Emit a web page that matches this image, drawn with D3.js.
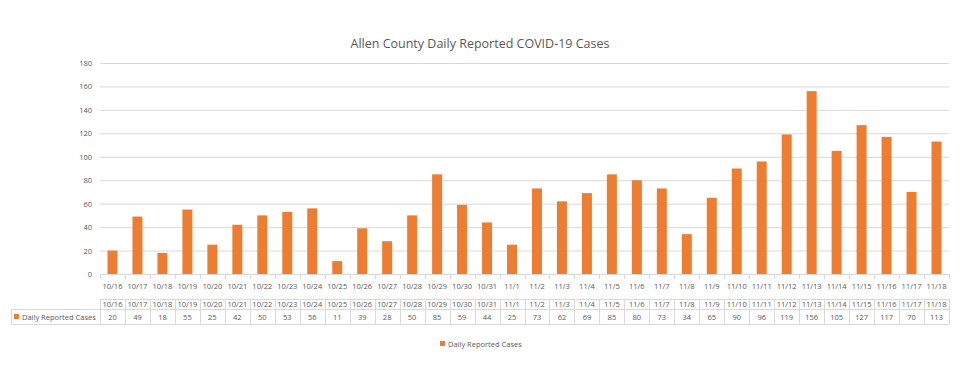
<!DOCTYPE html>
<html>
<head>
<meta charset="utf-8">
<script src="https://cdn.jsdelivr.net/npm/d3@7"></script>
<style>
    body { margin: 0; background: #fff; }
    text { font-family: "Open Sans", "Noto Sans", sans-serif; fill: #595959; }
</style>
</head>
<body>
<div id="chart"></div>
<script>
const dates = ["10/16", "10/17", "10/18", "10/19", "10/20", "10/21", "10/22", "10/23", "10/24", "10/25",
    "10/26", "10/27", "10/28", "10/29", "10/30", "10/31", "11/1", "11/2", "11/3", "11/4", "11/5", "11/6",
    "11/7", "11/8", "11/9", "11/10", "11/11", "11/12", "11/13", "11/14", "11/15", "11/16", "11/17", "11/18"];
const cases = [20, 49, 18, 55, 25, 42, 50, 53, 56, 11, 39, 28, 50, 85, 59, 44, 25, 73, 62, 69, 85, 80,
    73, 34, 65, 90, 96, 119, 156, 105, 127, 117, 70, 113];
const yTicks = [0, 20, 40, 60, 80, 100, 120, 140, 160, 180];
const seriesName = "Daily Reported Cases";
const title = "Allen County Daily Reported COVID-19 Cases";

const width = 960;
const height = 365;
const color = "#ed7d31";
const gridColor = "#d9d9d9";

const svg = d3.select("#chart")
    .append("svg")
    .attr("width", width)
    .attr("height", height);

const xScale = d3.scaleBand()
    .domain(dates)
    .range([100, 949])
    .paddingInner(0.6)
    .paddingOuter(0.3);

const yScale = d3.scaleLinear()
    .domain([0, 180])
    .range([274, 63]);

// title
svg.append("text")
    .attr("x", 480)
    .attr("y", 48)
    .attr("text-anchor", "middle")
    .style("font-size", "12.5px")
    .text(title);

// gridlines
svg.append("g")
    .selectAll("line")
    .data(yTicks.filter((d) => d > 0))
    .join("line")
    .attr("x1", 100)
    .attr("x2", 949)
    .attr("y1", (d) => yScale(d) + 0.5)
    .attr("y2", (d) => yScale(d) + 0.5)
    .attr("stroke", gridColor);

// y axis labels
svg.append("g")
    .selectAll("text")
    .data(yTicks)
    .join("text")
    .attr("x", 92)
    .attr("y", (d) => yScale(d) + 3)
    .attr("text-anchor", "end")
    .style("font-size", "7.5px")
    .text((d) => d);

// bars
svg.append("g")
    .selectAll("rect")
    .data(cases)
    .join("rect")
    .attr("x", (d, i) => xScale(dates[i]))
    .attr("y", (d) => yScale(d))
    .attr("width", xScale.bandwidth())
    .attr("height", (d) => yScale(0) - yScale(d))
    .attr("fill", color);

// x axis line + ticks
const step = xScale.step();
const edges = d3.range(dates.length + 1).map((i) => 100 + i * step);
svg.append("line")
    .attr("x1", 100).attr("x2", 949)
    .attr("y1", 274.5).attr("y2", 274.5)
    .attr("stroke", gridColor);
svg.append("g")
    .selectAll("line")
    .data(edges)
    .join("line")
    .attr("x1", (d) => Math.round(d) + 0.5)
    .attr("x2", (d) => Math.round(d) + 0.5)
    .attr("y1", 274)
    .attr("y2", 279)
    .attr("stroke", gridColor);

// x labels
svg.append("g")
    .selectAll("text")
    .data(dates)
    .join("text")
    .attr("x", (d) => xScale(d) + xScale.bandwidth() / 2)
    .attr("y", 289)
    .attr("text-anchor", "middle")
    .style("font-size", "7.5px")
    .text((d) => d);

// data table
const rowTop = 299, rowMid = 309, rowBot = 324;
const table = svg.append("g");
table.selectAll("line.v")
    .data(edges)
    .join("line")
    .attr("class", "v")
    .attr("x1", (d) => Math.round(d) + 0.5)
    .attr("x2", (d) => Math.round(d) + 0.5)
    .attr("y1", rowTop)
    .attr("y2", rowBot)
    .attr("stroke", gridColor);
table.append("line")
    .attr("x1", 100).attr("x2", 949)
    .attr("y1", rowTop + 0.5).attr("y2", rowTop + 0.5)
    .attr("stroke", gridColor);
table.append("line")
    .attr("x1", 11).attr("x2", 949)
    .attr("y1", rowMid + 0.5).attr("y2", rowMid + 0.5)
    .attr("stroke", gridColor);
table.append("line")
    .attr("x1", 11).attr("x2", 949)
    .attr("y1", rowBot + 0.5).attr("y2", rowBot + 0.5)
    .attr("stroke", gridColor);
table.append("line")
    .attr("x1", 11.5).attr("x2", 11.5)
    .attr("y1", rowMid).attr("y2", rowBot)
    .attr("stroke", gridColor);

table.selectAll("text.head")
    .data(dates)
    .join("text")
    .attr("class", "head")
    .attr("x", (d) => xScale(d) + xScale.bandwidth() / 2)
    .attr("y", rowMid - 2)
    .attr("text-anchor", "middle")
    .style("font-size", "7.5px")
    .text((d) => d);
table.selectAll("text.val")
    .data(cases)
    .join("text")
    .attr("class", "val")
    .attr("x", (d, i) => xScale(dates[i]) + xScale.bandwidth() / 2)
    .attr("y", rowBot - 4)
    .attr("text-anchor", "middle")
    .style("font-size", "7.5px")
    .text((d) => d);
table.append("rect")
    .attr("x", 14).attr("y", 314)
    .attr("width", 5).attr("height", 5)
    .attr("fill", color);
table.append("text")
    .attr("x", 22).attr("y", rowBot - 4)
    .style("font-size", "7.5px")
    .text(seriesName);

// legend
const legend = svg.append("g").attr("transform", "translate(440, 341)");
legend.append("rect")
    .attr("x", 0).attr("y", 0)
    .attr("width", 5).attr("height", 5)
    .attr("fill", color);
legend.append("text")
    .attr("x", 8).attr("y", 5.5)
    .style("font-size", "7.5px")
    .text(seriesName);
</script>
</body>
</html>
